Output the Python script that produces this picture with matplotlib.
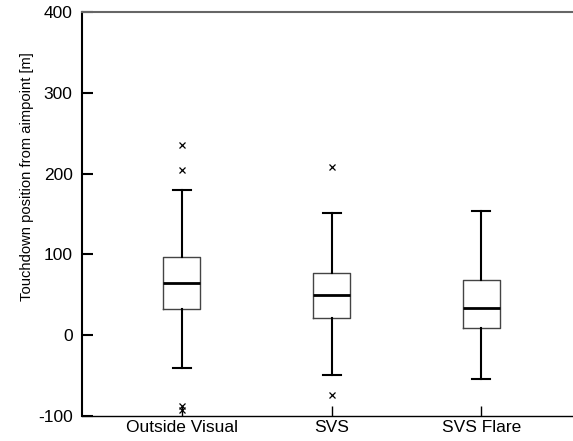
import matplotlib.pyplot as plt
import numpy as np

categories = ["Outside Visual", "SVS", "SVS Flare"]

# box statistics
whislo = [-40, -49, -54]
q1 = [33, 21, 9]
med = [64, 50, 34]
q3 = [97, 77, 68]
whishi = [180, 151, 154]
fliers = [[236, 204, -88, -92], [208, -74], []]

plt.rcParams['font.family'] = ['Liberation Sans', 'DejaVu Sans']
plt.rcParams['axes.unicode_minus'] = False

fig = plt.figure(figsize=(5.73, 4.41), dpi=100)
ax = fig.add_axes([0.1437, 0.0567, 0.87, 0.9161])

stats = []
for i, name in enumerate(categories):
    stats.append(dict(label=name, whislo=whislo[i], q1=q1[i], med=med[i],
                      q3=q3[i], whishi=whishi[i], fliers=fliers[i]))

ax.bxp(stats, positions=[1, 2, 3], widths=0.25,
       boxprops=dict(color='#444444', linewidth=1.0),
       medianprops=dict(color='black', linewidth=2.0),
       whiskerprops=dict(color='black', linewidth=1.5),
       capprops=dict(color='black', linewidth=1.5),
       capwidths=0.12,
       flierprops=dict(marker='x', markersize=4, markeredgecolor='black',
                       markeredgewidth=0.9))

ax.set_xlim(0.337, 3.663)
ax.set_ylim(-100, 400)
ax.set_yticks([-100, 0, 100, 200, 300, 400])
ax.set_ylabel("Touchdown position from aimpoint [m]", fontsize=10.6)
ax.yaxis.set_label_coords(-0.097, 0.592)

ax.spines['right'].set_visible(False)
ax.spines['top'].set_color('#666666')
ax.spines['top'].set_linewidth(1.5)
ax.spines['left'].set_linewidth(1.5)
ax.spines['bottom'].set_linewidth(1.0)

ax.tick_params(axis='y', direction='in', length=8, width=1.5, pad=7,
               labelsize=12.5)
ax.tick_params(axis='x', direction='in', length=7, width=1.0, pad=3,
               labelsize=12.5)

fig.savefig("out.png", dpi=100)
